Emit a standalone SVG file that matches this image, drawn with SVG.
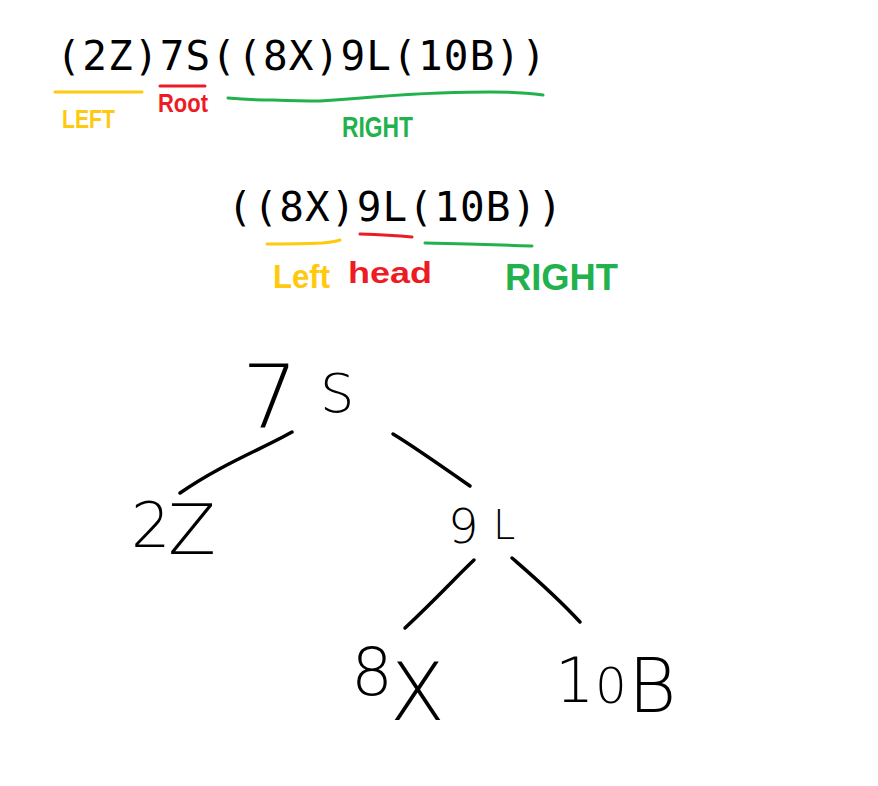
<svg xmlns="http://www.w3.org/2000/svg" width="878" height="786" viewBox="0 0 878 786">
<style>
.mono{font-family:"DejaVu Sans Mono","Liberation Mono",monospace;font-size:41px;letter-spacing:1.15px;fill:#000}
.hand{font-family:"Liberation Sans","DejaVu Sans",sans-serif;font-weight:bold}
.y{fill:#FFC90E}.r{fill:#ED1C24}.g{fill:#22B14C}
.ul{fill:none;stroke-width:3;stroke-linecap:round;stroke-linejoin:round}
.tree{font-family:"DejaVu Sans","Liberation Sans",sans-serif;font-weight:200;fill:#000}
.edge{fill:none;stroke:#000;stroke-width:3.5;stroke-linecap:round;stroke-linejoin:round}
</style>
<rect width="878" height="786" fill="#fff"/>
<g id="expr-full">
<text class="mono" x="56.3" y="70">(2Z)7S((8X)9L(10B))</text>
<path class="ul" stroke="#FFC90E" d="M55,92 L142,92"/>
<path class="ul" stroke="#ED1C24" d="M160,86 L205,86"/>
<path class="ul" stroke="#22B14C" d="M228,98 Q250,100 273,100 Q300,101 320,101 Q350,99 373,97 Q410,94 440,93 Q470,92 490,92 Q520,92 543,95"/>
<text class="hand y" x="62" y="128" font-size="26" textLength="53" lengthAdjust="spacingAndGlyphs">LEFT</text>
<text class="hand r" x="158" y="112" font-size="25" textLength="50" lengthAdjust="spacingAndGlyphs">Root</text>
<text class="hand g" x="342" y="137" font-size="30" textLength="71" lengthAdjust="spacingAndGlyphs">RIGHT</text>
</g>
<g id="expr-right">
<text class="mono" x="227.5" y="221">((8X)9L(10B))</text>
<path class="ul" stroke="#FFC90E" d="M267,244 Q300,244 322,243 Q334,242 340,240"/>
<path class="ul" stroke="#ED1C24" d="M360,234 Q390,235 412,237"/>
<path class="ul" stroke="#22B14C" d="M425,243 Q480,244 532,246"/>
<text class="hand y" x="273" y="288" font-size="34" textLength="57" lengthAdjust="spacingAndGlyphs">Left</text>
<text class="hand r" x="348" y="283" font-size="29" textLength="84" lengthAdjust="spacingAndGlyphs">head</text>
<text class="hand g" x="505" y="290" font-size="36" textLength="113" lengthAdjust="spacingAndGlyphs">RIGHT</text>
</g>
<g id="connectors">
<path class="edge" d="M292,432 C262,449 222,464 180,493"/>
<path class="edge" d="M393,434 C410,444 430,458 470,486"/>
<path class="edge" d="M474,560 C455,578 440,595 405,628"/>
<path class="edge" d="M512,558 C535,578 555,595 580,622"/>
</g>
<g id="node-7S">
<text class="tree"><tspan x="242" y="427" font-size="88">7</tspan><tspan x="320" y="412" font-size="54">S</tspan></text>
</g>
<g id="node-2Z">
<text class="tree"><tspan x="131" y="547" font-size="62">2</tspan><tspan x="168" y="554" font-size="70">Z</tspan></text>
</g>
<g id="node-9L">
<text class="tree"><tspan x="448" y="543" font-size="48">9</tspan><tspan x="493" y="539" font-size="40">L</tspan></text>
</g>
<g id="node-8X">
<text class="tree"><tspan x="351" y="695" font-size="66">8</tspan><tspan x="390" y="720" font-size="80">X</tspan></text>
</g>
<g id="node-10B">
<text class="tree"><tspan x="555" y="702" font-size="62">1</tspan><tspan x="595" y="703" font-size="50">0</tspan><tspan x="628" y="712" font-size="74">B</tspan></text>
</g>
</svg>
